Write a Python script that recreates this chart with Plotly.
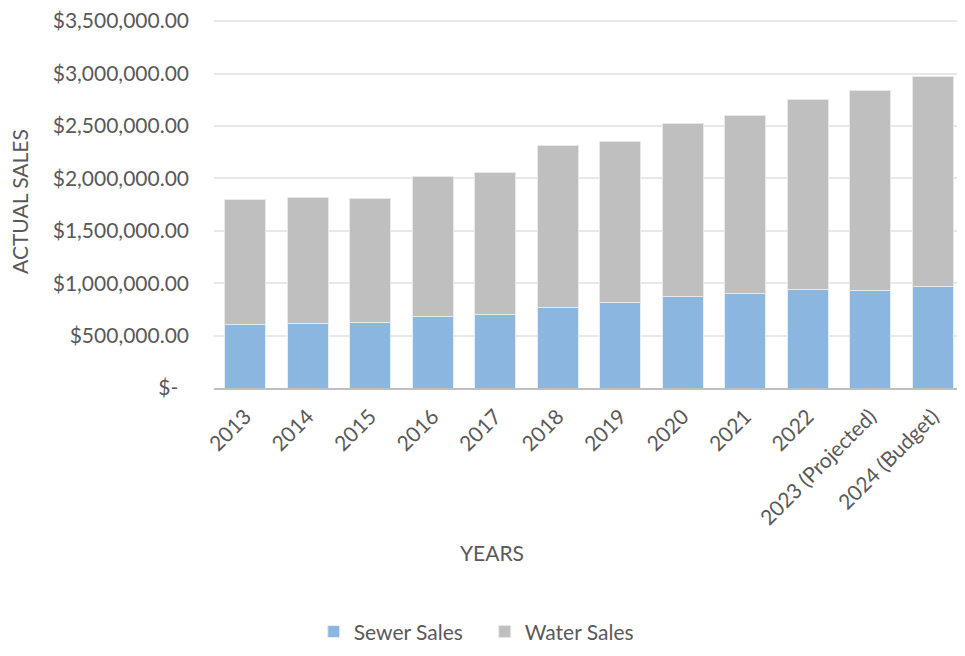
import plotly.graph_objects as go

categories = ["2013", "2014", "2015", "2016", "2017", "2018", "2019", "2020",
              "2021", "2022", "2023 (Projected)", "2024 (Budget)"]
sewer_sales = [602000, 615000, 621000, 679000, 701000, 768000, 817000, 872000,
               903000, 941000, 932000, 967000]
water_sales = [1195000, 1199000, 1183000, 1341000, 1354000, 1545000, 1532000, 1654000,
               1694000, 1812000, 1903000, 2008000]
y_tick_values = [0, 500000, 1000000, 1500000, 2000000, 2500000, 3000000, 3500000]
y_tick_labels = ["$-\u00a0\u00a0", "$500,000.00", "$1,000,000.00", "$1,500,000.00", "$2,000,000.00",
                 "$2,500,000.00", "$3,000,000.00", "$3,500,000.00"]

FONT = "Lato, Open Sans, sans-serif"
TXT = "#595959"
FS = 21

fig = go.Figure()
fig.add_trace(go.Bar(x=categories, y=sewer_sales, name="Sewer Sales",
                     marker=dict(color="#8BB6E0", line=dict(color="#E6EEF7", width=1))))
fig.add_trace(go.Bar(x=categories, y=water_sales, name="Water Sales",
                     marker=dict(color="#BFBFBF", line=dict(color="#E8E8E8", width=1))))

fig.update_layout(
    width=957, height=648,
    barmode="stack", bargap=0.343,
    plot_bgcolor="white", paper_bgcolor="white",
    margin=dict(l=206, r=1, t=11, b=268, autoexpand=False),
    font=dict(family=FONT, color=TXT, size=FS),
    showlegend=True,
    legend=dict(orientation="h", x=0.361, xanchor="center", y=-0.661, yanchor="middle",
                font=dict(size=FS, color=TXT), traceorder="normal", entrywidth=126),
    xaxis=dict(tickangle=-45, tickfont=dict(size=FS, color=TXT), showline=True,
               linecolor="#BFBFBF", linewidth=2, ticks="outside", ticklen=6,
               tickcolor="rgba(0,0,0,0)", showgrid=False),
    yaxis=dict(range=[0, 3520000], tickvals=y_tick_values, ticktext=y_tick_labels,
               showgrid=True, gridcolor="#E8E8E8", gridwidth=1.5, zeroline=False,
               tickfont=dict(size=FS, color=TXT), ticks="", ticklabelstandoff=24,
               ticklabeloverflow="allow"),
    annotations=[
        dict(text="YEARS", xref="paper", yref="paper", x=0.370, y=-0.446,
             showarrow=False, font=dict(size=FS, color=TXT), xanchor="center", yanchor="middle"),
        dict(text="ACTUAL SALES", xref="paper", yref="paper", x=-0.2587, y=0.507,
             showarrow=False, textangle=-90, font=dict(size=FS, color=TXT),
             xanchor="center", yanchor="middle"),
    ],
)

fig.write_html("out.html")
